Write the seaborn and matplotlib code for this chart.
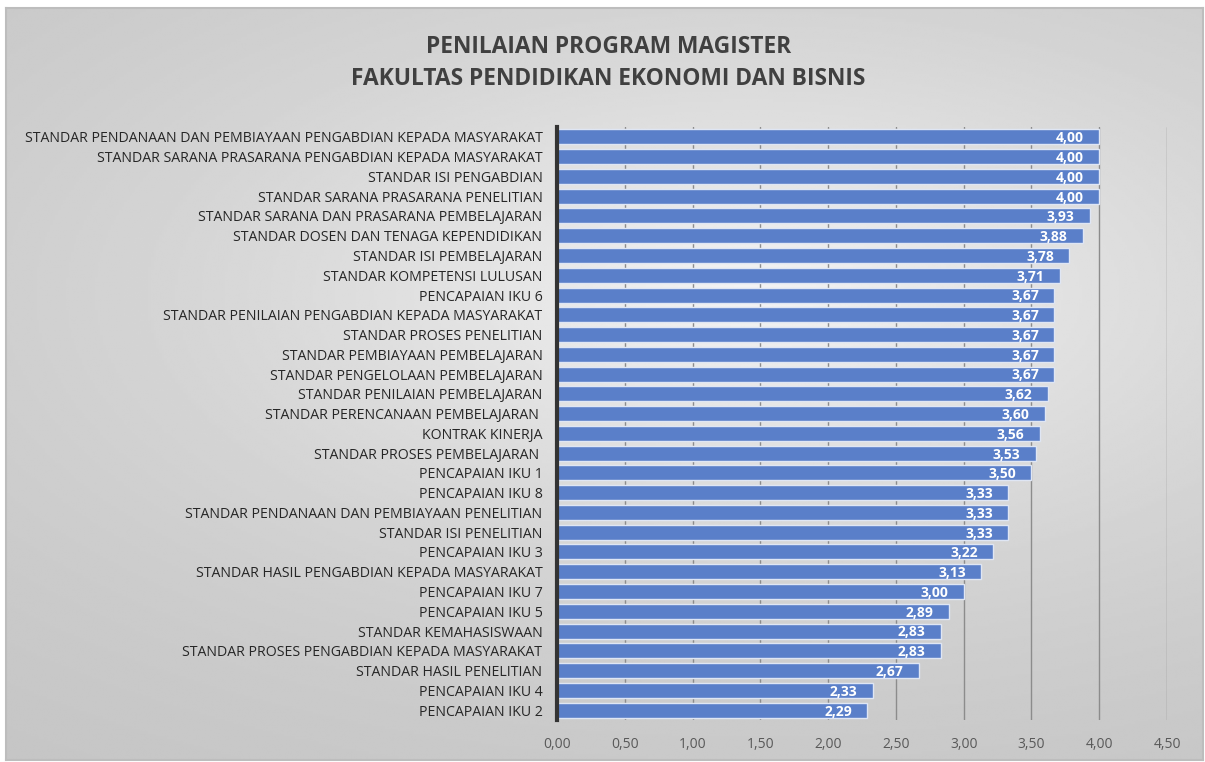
import matplotlib.pyplot as plt
import seaborn as sns
import numpy as np
import pandas as pd

# chart values, top bar first
standar = [
    "STANDAR PENDANAAN DAN PEMBIAYAAN PENGABDIAN KEPADA MASYARAKAT",
    "STANDAR SARANA PRASARANA PENGABDIAN KEPADA MASYARAKAT",
    "STANDAR ISI PENGABDIAN",
    "STANDAR SARANA PRASARANA PENELITIAN",
    "STANDAR SARANA DAN PRASARANA PEMBELAJARAN",
    "STANDAR DOSEN DAN TENAGA KEPENDIDIKAN",
    "STANDAR ISI PEMBELAJARAN",
    "STANDAR KOMPETENSI LULUSAN",
    "PENCAPAIAN IKU 6",
    "STANDAR PENILAIAN PENGABDIAN KEPADA MASYARAKAT",
    "STANDAR PROSES PENELITIAN",
    "STANDAR PEMBIAYAAN PEMBELAJARAN",
    "STANDAR PENGELOLAAN PEMBELAJARAN",
    "STANDAR PENILAIAN PEMBELAJARAN",
    "STANDAR PERENCANAAN PEMBELAJARAN ",
    "KONTRAK KINERJA",
    "STANDAR PROSES PEMBELAJARAN ",
    "PENCAPAIAN IKU 1",
    "PENCAPAIAN IKU 8",
    "STANDAR PENDANAAN DAN PEMBIAYAAN PENELITIAN",
    "STANDAR ISI PENELITIAN",
    "PENCAPAIAN IKU 3",
    "STANDAR HASIL PENGABDIAN KEPADA MASYARAKAT",
    "PENCAPAIAN IKU 7",
    "PENCAPAIAN IKU 5",
    "STANDAR KEMAHASISWAAN",
    "STANDAR PROSES PENGABDIAN KEPADA MASYARAKAT",
    "STANDAR HASIL PENELITIAN",
    "PENCAPAIAN IKU 4",
    "PENCAPAIAN IKU 2",
]
nilai = [4.00, 4.00, 4.00, 4.00, 3.93, 3.88, 3.78, 3.71, 3.67, 3.67,
         3.67, 3.67, 3.67, 3.62, 3.60, 3.56, 3.53, 3.50, 3.33, 3.33,
         3.33, 3.22, 3.13, 3.00, 2.89, 2.83, 2.83, 2.67, 2.33, 2.29]
x_ticks = [0, 0.5, 1, 1.5, 2, 2.5, 3, 3.5, 4, 4.5]

title_lines = "PENILAIAN PROGRAM MAGISTER\nFAKULTAS PENDIDIKAN EKONOMI DAN BISNIS"

df = pd.DataFrame({"standar": standar, "nilai": nilai})

sns.set_style("white")
plt.rcParams["font.family"] = ["Open Sans", "DejaVu Sans"]

fig = plt.figure(figsize=(12.05, 7.62), dpi=100)
fig.patch.set_facecolor("white")

# gradient chart background (light centre, grey corners)
bg = fig.add_axes([6 / 1205, 2 / 762, 1197 / 1205, 752 / 762])
yy, xx = np.mgrid[0:1:300j, 0:1:450j]
dist = np.sqrt(((xx - 0.62) / 1.0) ** 2 + ((yy - 0.38) / 0.75) ** 2)
shade = 0.955 - 0.2 * np.tanh(dist / 0.7)
bg.imshow(shade, cmap="gray", vmin=0, vmax=1, aspect="auto",
          extent=[0, 1, 0, 1], origin="upper", interpolation="bilinear")
bg.set_xticks([])
bg.set_yticks([])
for s in bg.spines.values():
    s.set_color("#bdbdbd")
    s.set_linewidth(1.5)

ax = fig.add_axes([557 / 1205, 1 - 720 / 762, 610 / 1205, 593 / 762])
ax.patch.set_alpha(0)

sns.barplot(data=df, x="nilai", y="standar", color="#5a7fc9", width=0.76,
            edgecolor="#dfe6f4", linewidth=1.0, saturation=1, ax=ax, zorder=3)

ax.set_xlim(0, 4.5)
ax.set_ylim(29.5, -0.5)
ax.set_xticks(x_ticks)
ax.set_xticklabels([f"{t:.2f}".replace(".", ",") for t in x_ticks],
                   fontsize=10, color="#595959")
ax.tick_params(axis="y", labelsize=10.15, labelcolor="#262626", length=0, pad=10.5)
ax.tick_params(axis="x", length=0, pad=12)
ax.set_xlabel("")
ax.set_ylabel("")
ax.grid(axis="x", color="#8c8c8c", linewidth=1.0, zorder=0)
ax.set_axisbelow(True)
for name, s in ax.spines.items():
    s.set_visible(name == "left")
ax.spines["left"].set_color("#333333")
ax.spines["left"].set_linewidth(3)
ax.spines["left"].set_zorder(5)

for i, v in enumerate(nilai):
    ax.annotate(f"{v:.2f}".replace(".", ","), xy=(v, i), xytext=(-11, -1),
                textcoords="offset points", ha="right", va="center",
                color="white", fontsize=10, fontweight="bold", zorder=6)

fig.text(0.505, 1 - 63 / 762, title_lines, ha="center", va="center",
         fontsize=16.4, fontweight="bold", color="#404040", linespacing=1.45)

fig.savefig("out.png", dpi=100)
